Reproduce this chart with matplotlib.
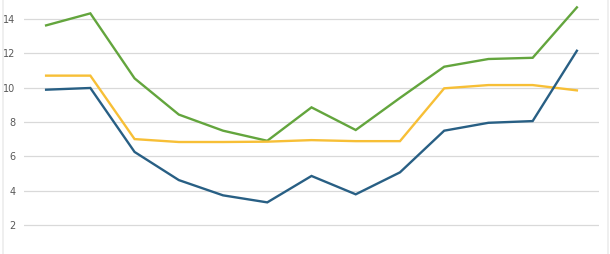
import matplotlib
matplotlib.use("Agg")
import matplotlib.pyplot as plt
from matplotlib.lines import Line2D

categories = list(range(13))
green = [13.63, 14.33, 10.54, 8.43, 7.49, 6.90, 8.85, 7.53, 9.40, 11.22, 11.67, 11.74, 14.68]
yellow = [10.70, 10.70, 7.00, 6.83, 6.83, 6.85, 6.94, 6.88, 6.88, 9.96, 10.15, 10.15, 9.84]
blue = [9.88, 9.98, 6.25, 4.61, 3.72, 3.31, 4.85, 3.78, 5.06, 7.49, 7.95, 8.05, 12.15]
yticks = [2, 4, 6, 8, 10, 12, 14]

fig = plt.figure(figsize=(6.10, 2.54), dpi=100)
ax = fig.add_axes([24/610, 0, 575/610, 1])

ax.plot(categories, green, color="#63a53d", lw=1.7, solid_joinstyle="miter", zorder=3)
ax.plot(categories, yellow, color="#f7bf36", lw=1.7, solid_joinstyle="miter", zorder=3)
ax.plot(categories, blue, color="#285f84", lw=1.7, solid_joinstyle="miter", zorder=3)

ax.set_xlim(-0.5, 12.5)
ax.set_ylim(0.3, 15.11)
ax.set_yticks(yticks)
ax.set_yticklabels([str(t) for t in yticks], fontsize=7, color="#595959")
ax.set_xticks([])
ax.tick_params(axis="y", length=0, pad=6)
ax.grid(axis="y", color="#d9d9d9", lw=0.9)
ax.set_axisbelow(True)
for s in ax.spines.values():
    s.set_visible(False)

fig.add_artist(Line2D([2.5/610, 2.5/610], [0, 1], color="#ececec", lw=1.2, transform=fig.transFigure))
fig.add_artist(Line2D([607.5/610, 607.5/610], [0, 1], color="#ececec", lw=1.2, transform=fig.transFigure))

fig.savefig("out.png", dpi=100)
